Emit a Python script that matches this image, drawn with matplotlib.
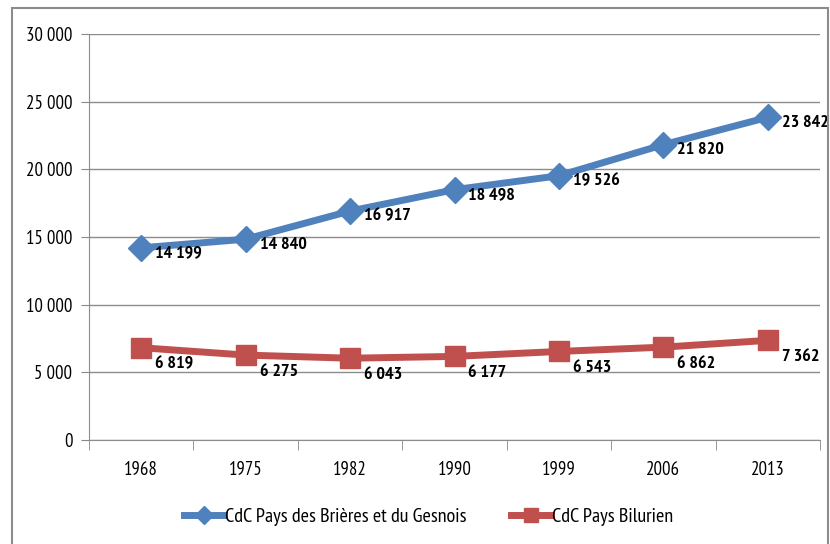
import matplotlib.pyplot as plt
from matplotlib.patches import Rectangle
from matplotlib.ticker import FuncFormatter, FixedLocator

plt.rcParams['font.family'] = ['PT Sans Narrow', 'Carlito', 'DejaVu Sans']

years = ['1968', '1975', '1982', '1990', '1999', '2006', '2013']
brieres = [14199, 14840, 16917, 18498, 19526, 21820, 23842]
bilurien = [6819, 6275, 6043, 6177, 6543, 6862, 7362]
name_brieres = 'CdC Pays des Brières et du Gesnois'
name_bilurien = 'CdC Pays Bilurien'

blue = '#4F81BD'
red = '#C0504D'

def fmt(v):
    return f'{int(v):,}'.replace(',', ' ')

fig = plt.figure(figsize=(8.3, 5.44), dpi=100)
ax = fig.add_axes([89/830, 1 - 440/544, (820-89)/830, (440-34)/544])

x = list(range(len(years)))
ax.plot(x, brieres, color=blue, lw=5, marker='D', ms=13, label=name_brieres, zorder=3)
ax.plot(x, bilurien, color=red, lw=5, marker='s', ms=15, label=name_bilurien, zorder=3)

# data labels, to the lower right of each point
for xi, v in zip(x, brieres):
    ax.annotate(fmt(v), (xi, v), xytext=(10, -4), textcoords='offset points',
                ha='left', va='center', fontsize=13, fontweight='bold')
for xi, v in zip(x, bilurien):
    ax.annotate(fmt(v), (xi, v), xytext=(10, -12), textcoords='offset points',
                ha='left', va='center', fontsize=13, fontweight='bold')

ax.set_xlim(-0.5, len(years) - 0.5)
ax.set_ylim(0, 30000)
ax.set_yticks(range(0, 30001, 5000))
ax.yaxis.set_major_formatter(FuncFormatter(lambda v, p: fmt(v)))
ax.set_xticks(x)
ax.set_xticklabels(years)
ax.xaxis.set_minor_locator(FixedLocator([i - 0.5 for i in range(len(years) + 1)]))
ax.tick_params(axis='x', which='major', length=0, pad=15, labelsize=13.5)
ax.tick_params(axis='x', which='minor', length=7, color='#888888', direction='out')
ax.tick_params(axis='y', length=6, color='#888888', labelsize=13.5, pad=6)

ax.grid(axis='y', color='#8c8c8c', lw=1)
ax.set_axisbelow(True)
for s in ['top', 'right']:
    ax.spines[s].set_visible(False)
ax.spines['left'].set_color('#8c8c8c')
ax.spines['bottom'].set_color('#8c8c8c')

leg = fig.legend(loc='center', bbox_to_anchor=(0.516, 1 - 517/544), ncol=2, frameon=False,
                 fontsize=14.5, handlelength=2.0, handletextpad=0.05, columnspacing=2.2,
                 markerscale=0.7)

fig.patches.append(Rectangle((12/830, -0.05), (828-12)/830, 1 - 8/544 + 0.05,
                             transform=fig.transFigure, fill=False,
                             edgecolor='#8c8c8c', lw=1.5))

fig.savefig('out.png', dpi=100)
